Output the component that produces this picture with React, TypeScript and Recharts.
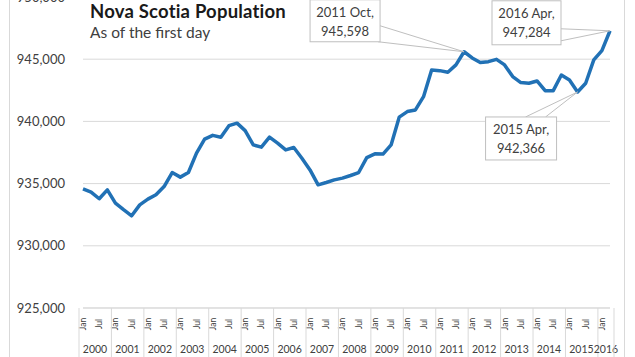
import React from 'react';
import { LineChart, Line, XAxis, YAxis, CartesianGrid } from 'recharts';

const years = [2000, 2001, 2002, 2003, 2004, 2005, 2006, 2007, 2008, 2009, 2010, 2011, 2012, 2013, 2014, 2015, 2016];
const quarterNames = ['Jan', 'Apr', 'Jul', 'Oct'];
const shownQuarters = ['Jan', 'Jul'];

const population = [
  934580, 934320, 933780, 934500,
  933430, 932900, 932410, 933290,
  933750, 934100, 934760, 935890,
  935520, 935890, 937450, 938570,
  938880, 938730, 939660, 939860,
  939260, 938110, 937930, 938730,
  938250, 937710, 937900, 937040,
  936100, 934900, 935090, 935300,
  935440, 935650, 935890, 937090,
  937390, 937370, 938110, 940340,
  940790, 940920, 941990, 944130,
  944080, 943950, 944540, 945598,
  945100, 944730, 944800, 944990,
  944540, 943600, 943120, 943070,
  943250, 942470, 942470, 943730,
  943330, 942366, 943070, 944940,
  945690, 947284,
];

const yTicks = [925000, 930000, 935000, 940000, 945000, 950000];
const calloutPeriods = ['2011 Oct', '2015 Apr', '2016 Apr'];

const data = population.map((v, i) => ({
  period: `${years[Math.floor(i / 4)]} ${quarterNames[i % 4]}`,
  year: years[Math.floor(i / 4)],
  quarter: quarterNames[i % 4],
  value: v,
}));

const FONT = 'Lato, "Open Sans", sans-serif';
const TITLE_FONT = 'Lato, "Open Sans", sans-serif';
const TEXT = '#404040';
const GRID = '#d9d9d9';

// layout of callout boxes relative to their point
const calloutLayout: Record<string, { dx: number; dy: number; w: number; h: number; base: number[][] }> = {
  '2011 Oct': { dx: -154, dy: -52, w: 70, h: 42, base: [[-84, -26], [-86, -10]] },
  '2015 Apr': { dx: -92, dy: 25, w: 71, h: 43, base: [[-52, 25], [-32, 25]] },
  '2016 Apr': { dx: -118, dy: -30, w: 69, h: 44, base: [[-49, -2], [-49, 10]] },
};

const fmt = (v: number) => v.toLocaleString('en-US');

const XTick = (props: any) => {
  const { x, y, payload } = props;
  const idx = data.findIndex((d) => d.period === payload.value);
  if (idx < 0) return <g />;
  const d = data[idx];
  const half = payload.offset || 4;
  const parts: React.ReactNode[] = [];
  if (shownQuarters.includes(d.quarter)) {
    parts.push(
      <text key="q" x={0} y={0} transform={`translate(${x + 3},${y + 16}) rotate(-90)`} textAnchor="middle"
        fontSize={8.5} fontFamily={FONT} fill={TEXT}>{d.quarter}</text>
    );
  }
  if (d.quarter === 'Jan') {
    const n = data.filter((e) => e.year === d.year).length;
    const left = x - half;
    parts.push(<line key="l" x1={left} x2={left} y1={y} y2={y + 60} stroke={GRID} strokeWidth={1} />);
    parts.push(
      <text key="y" x={left + n * half} y={y + 45} textAnchor="middle" fontSize={10.5} fontFamily={FONT} fill={TEXT}>{d.year}</text>
    );
  }
  if (idx === data.length - 1) {
    parts.push(<line key="r" x1={x + half} x2={x + half} y1={y} y2={y + 60} stroke={GRID} strokeWidth={1} />);
  }
  return <g>{parts}</g>;
};

const renderDot = (props: any) => {
  const { cx, cy, payload, index } = props;
  const c = calloutLayout[payload?.period];
  if (!c || !calloutPeriods.includes(payload.period)) return <g key={`d${index}`} />;
  const bx = cx + c.dx;
  const by = cy + c.dy;
  return (
    <g key={`d${index}`}>
      {c.base.map((b, i) => (
        <line key={i} x1={cx + b[0]} y1={cy + b[1]} x2={cx} y2={cy} stroke="#bfbfbf" strokeWidth={1} />
      ))}
      <rect x={bx} y={by} width={c.w} height={c.h} fill="#fff" stroke="#bfbfbf" strokeWidth={1} />
      <text x={bx + c.w / 2} y={by + 17.5} textAnchor="middle" fontSize={13} fontFamily={FONT} fill={TEXT}>{`${payload.period},`}</text>
      <text x={bx + c.w / 2} y={by + 36} textAnchor="middle" fontSize={13} fontFamily={FONT} fill={TEXT}>{fmt(payload.value)}</text>
    </g>
  );
};

export default function App() {
  return (
    <div style={{ position: 'absolute', left: 0, top: 0, width: 635, height: 357, overflow: 'hidden', background: '#fff' }}>
      <div style={{ position: 'absolute', left: 9, top: -10, width: 616, height: 380, border: `1px solid ${GRID}`, boxSizing: 'border-box' }} />
      <div style={{ position: 'absolute', left: 0, top: -20 }}>
        <LineChart width={635} height={377} data={data} margin={{ top: 17, right: 25, bottom: 0, left: 10 }}>
          <CartesianGrid vertical={false} stroke={GRID} />
          <XAxis dataKey="period" interval={0} tickLine={false} axisLine={{ stroke: GRID }} tickSize={0} tickMargin={0}
            height={49} tick={<XTick />} />
          <YAxis domain={[925000, 950000]} ticks={yTicks} width={73} tickLine={false} axisLine={false}
            tickSize={0} tickMargin={18} tickFormatter={fmt}
            tick={{ fill: TEXT, fontSize: 13, fontFamily: FONT }} />
          <Line type="linear" dataKey="value" stroke="#2171b5" strokeWidth={3.5} dot={renderDot} activeDot={false}
            isAnimationActive={false} strokeLinejoin="round" />
        </LineChart>
      </div>
      <svg style={{ position: 'absolute', left: 0, top: 0 }} width={635} height={60}>
        <text x={90} y={18} fontSize={18.5} fontWeight="bold" letterSpacing={0.2} fontFamily={TITLE_FONT} fill="#1a1a1a">Nova Scotia Population</text>
        <text x={90} y={37.5} fontSize={15.5} fontFamily={TITLE_FONT} fill={TEXT}>As of the first day</text>
      </svg>
    </div>
  );
}
